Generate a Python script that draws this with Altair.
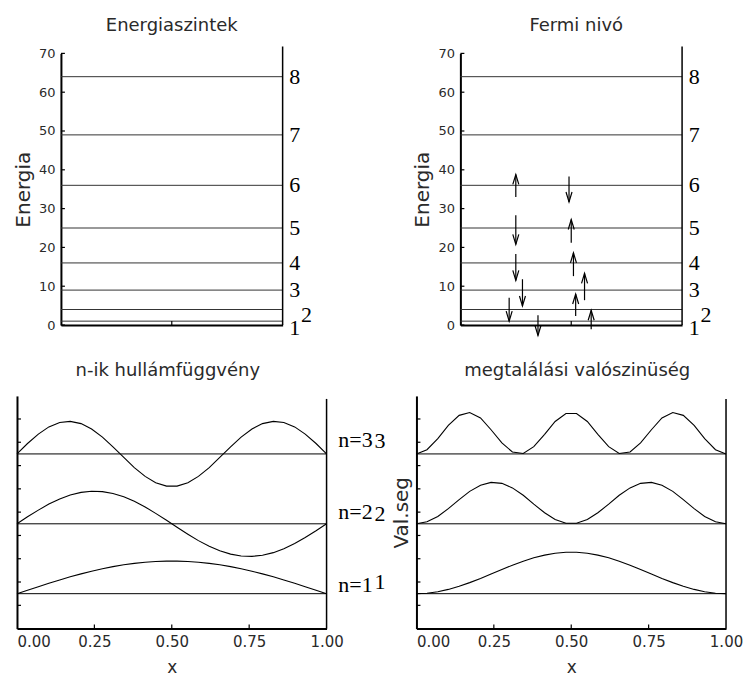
import altair as alt
import pandas as pd

# ---------------- data ----------------
# top panels: energy levels E_n and their labels
levels = [1, 4, 9, 16, 25, 36, 49, 64]
level_text = ["1", "2", "3", "4", "5", "6", "7", "8"]
level_text_x = [1.03, 1.083, 1.03, 1.03, 1.03, 1.03, 1.03, 1.03]
level_text_y = [-0.7, 2.5, 9, 16, 25, 36, 49, 64]
energy_ticks = [0, 10, 20, 30, 40, 50, 60, 70]
top_x_ticks = [0.5]

# Fermi level: spin arrows (x position, tail energy, tip energy)
arrow_x = [0.25, 0.49, 0.25, 0.50, 0.25, 0.51, 0.28, 0.56, 0.22, 0.52, 0.35, 0.59]
arrow_from = [33.0, 38.3, 28.3, 21.2, 18.3, 12.6, 11.8, 6.4, 7.0, 2.3, 2.5, -1.1]
arrow_to = [38.8, 31.7, 20.8, 27.2, 11.5, 18.6, 4.9, 13.3, 1.0, 8.0, -2.7, 3.8]

# bottom panels: sampled curves (offset from their baselines)
xs = [0.0, 0.034, 0.069, 0.103, 0.138, 0.172, 0.207, 0.241, 0.276, 0.31,
      0.345, 0.379, 0.414, 0.448, 0.483, 0.517, 0.552, 0.586, 0.621, 0.655,
      0.69, 0.724, 0.759, 0.793, 0.828, 0.862, 0.897, 0.931, 0.966, 1.0]
psi1 = [0, .050, .100, .149, .196, .241, .283, .321, .356, .387, .413, .434, .450, .461, .466,
        .466, .461, .450, .434, .413, .387, .356, .321, .283, .241, .196, .149, .100, .050, 0]
psi2 = [0, .100, .196, .283, .356, .413, .450, .466, .461, .434, .387, .321, .241, .149, .050,
        -.050, -.149, -.241, -.321, -.387, -.434, -.461, -.466, -.450, -.413, -.356, -.283, -.196, -.100, 0]
psi3 = [0, .149, .283, .387, .450, .466, .434, .356, .241, .100, -.050, -.196, -.321, -.413, -.461,
        -.461, -.413, -.321, -.196, -.050, .100, .241, .356, .434, .466, .450, .387, .283, .149, 0]
prob1 = [0, .007, .028, .061, .105, .158, .218, .281, .346, .408, .464, .514, .552, .579, .593,
         .593, .579, .552, .514, .464, .408, .346, .281, .218, .158, .105, .061, .028, .007, 0]
prob2 = [0, .028, .105, .218, .346, .464, .552, .593, .579, .514, .408, .281, .158, .061, .007,
         .007, .061, .158, .281, .408, .514, .579, .593, .552, .464, .346, .218, .105, .028, 0]
prob3 = [0, .061, .218, .408, .552, .593, .514, .346, .158, .028, .007, .105, .281, .464, .579,
         .579, .464, .281, .105, .007, .028, .158, .346, .514, .593, .552, .408, .218, .061, 0]
baselines = [1, 2, 3]

wave_labels = ["n=1", "n=2", "n=3"]
wave_label_x = [1.038, 1.038, 1.038]
wave_label_y = [1.12, 2.17, 3.2]
prob_labels = ["1", "2", "3"]
prob_label_x = [-0.118, -0.118, -0.118]
prob_label_y = [1.166, 2.147, 3.19]

bottom_y_ticks = [0.833, 1.167, 1.5, 1.833, 2.167, 2.5, 2.833, 3.167, 3.5]
bottom_x_ticks = [0.25, 0.5, 0.75]
bottom_x_labels = [0, 0.25, 0.5, 0.75, 1]

# ---------------- styling ----------------
FONT = "DejaVu Sans"
SERIF = "Liberation Serif"
INK = "#2a2a2a"
XOFF = 44                      # room left of the energy axis inside the top panels
W_TOP, H_TOP = 222, 272
W_BOT, H_BOT = 310, 233


def make_title(text, offset, dx):
    return alt.TitleParams(text=text, font=FONT, fontSize=18, fontWeight="normal",
                           color=INK, anchor="middle", frame="group", offset=offset, dx=dx)


def top_panel(title, with_arrows, title_dx):
    xsc = alt.Scale(domain=[0, 1], range=[XOFF, XOFF + W_TOP], nice=False, zero=False)
    ysc = alt.Scale(domain=[0, 70], nice=False, zero=False)
    xax = alt.Axis(labels=False, ticks=False, tickSize=0, title=None, grid=False,
                   domainColor="black", domainWidth=2)
    yax = alt.Axis(values=energy_ticks, ticks=False, tickSize=0, labelPadding=6,
                   labelFontSize=13, title="Energia", titleFontSize=20, titlePadding=5,
                   offset=-XOFF, grid=False, domainColor="black", domainWidth=2)

    X = lambda f: alt.X(f, type="quantitative", scale=xsc, axis=xax)
    Y = lambda f: alt.Y(f, type="quantitative", scale=ysc, axis=yax)

    lines = alt.Chart(pd.DataFrame({"level": levels})).mark_rule(
        color="#333333", strokeWidth=1).encode(
        y=Y("level"), x=alt.datum(0, scale=xsc), x2=alt.datum(1))

    lab = pd.DataFrame({"t": level_text, "lx": level_text_x, "ly": level_text_y})
    labels = alt.Chart(lab).mark_text(font=SERIF, fontSize=22, align="left",
                                      baseline="middle", color="black").encode(
        x=X("lx"), y=Y("ly"), text="t:N")

    yt = alt.Chart(pd.DataFrame({"v": energy_ticks})).mark_rule(
        color="black", strokeWidth=1.2).encode(
        y=Y("v"), x=alt.datum(0), x2=alt.datum(0.018))
    xt = alt.Chart(pd.DataFrame({"v": top_x_ticks})).mark_rule(
        color="black", strokeWidth=1.2).encode(
        x=X("v"), y=alt.value(H_TOP), y2=alt.value(H_TOP - 4))
    frame = alt.Chart(pd.DataFrame({"a": [0]})).mark_rule(
        color="black", strokeWidth=1.5).encode(
        x=alt.datum(1), y=alt.value(-7), y2=alt.value(H_TOP))

    layers = [lines, yt, xt, frame, labels]
    if with_arrows:
        ar = pd.DataFrame({"ax": arrow_x, "yfrom": arrow_from, "yto": arrow_to})
        ar["dir"] = ["up" if b > a else "down" for a, b in zip(arrow_from, arrow_to)]
        shafts = alt.Chart(ar).mark_rule(color="black", strokeWidth=1.2).encode(
            x=X("ax"), y=Y("yfrom"), y2="yto:Q")
        up = alt.Chart(ar).transform_filter("datum.dir == 'up'").mark_point(
            shape="M-0.3,1L0,0L0.3,1", size=400, filled=False, color="black",
            strokeWidth=1.2, opacity=1).encode(x=X("ax"), y=Y("yto"))
        down = alt.Chart(ar).transform_filter("datum.dir == 'down'").mark_point(
            shape="M-0.3,-1L0,0L0.3,-1", size=400, filled=False, color="black",
            strokeWidth=1.2, opacity=1).encode(x=X("ax"), y=Y("yto"))
        layers += [shafts, up, down]

    return alt.layer(*layers).properties(
        width=XOFF + W_TOP, height=H_TOP, title=make_title(title, 11, title_dx))


def bottom_panel(title, series, ltext, lx, ly, lalign, ytitle, title_dx):
    xsc = alt.Scale(domain=[0, 1], nice=False, zero=False)
    ysc = alt.Scale(domain=[0.5, 3.83], nice=False, zero=False)
    xax = alt.Axis(values=bottom_x_labels, format=".2f", ticks=False, tickSize=0,
                   labelPadding=6, labelFontSize=15, title="x", titleFontSize=17,
                   titlePadding=10, grid=False, domainColor="black", domainWidth=2,
                   labelAlign={"condition": {"test": "datum.value === 0", "value": "left"},
                               "value": "center"})
    yargs = dict(labels=False, ticks=False, tickSize=0, grid=False,
                 domainColor="black", domainWidth=2)
    if ytitle:
        yax = alt.Axis(title=ytitle, titleFontSize=20, titlePadding=5, **yargs)
    else:
        yax = alt.Axis(title=None, **yargs)

    X = lambda f: alt.X(f, type="quantitative", scale=xsc, axis=xax)
    Y = lambda f: alt.Y(f, type="quantitative", scale=ysc, axis=yax)

    rows = []
    for base, vals in zip(baselines, series):
        for xv, v in zip(xs, vals):
            rows.append({"x": xv, "y": base + v, "n": base})
    cdf = pd.DataFrame(rows)

    curves = alt.Chart(cdf).mark_line(color="black", strokeWidth=1.1).encode(
        x=X("x"), y=Y("y"), detail="n:N")
    base_lines = alt.Chart(pd.DataFrame({"b": baselines})).mark_rule(
        color="black", strokeWidth=1).encode(y=Y("b"))
    yt = alt.Chart(pd.DataFrame({"v": bottom_y_ticks})).mark_rule(
        color="black", strokeWidth=1.2).encode(
        y=Y("v"), x=alt.value(0), x2=alt.value(4))
    xt = alt.Chart(pd.DataFrame({"v": bottom_x_ticks})).mark_rule(
        color="black", strokeWidth=1.2).encode(
        x=X("v"), y=alt.value(H_BOT), y2=alt.value(H_BOT - 4))
    frame = alt.Chart(pd.DataFrame({"a": [0]})).mark_rule(
        color="black", strokeWidth=1.5).encode(
        x=alt.value(W_BOT), y=alt.value(3), y2=alt.value(H_BOT))
    lab = pd.DataFrame({"t": ltext, "lx": lx, "ly": ly})
    labels = alt.Chart(lab).mark_text(font=SERIF, fontSize=22, align=lalign,
                                      baseline="middle", color="black").encode(
        x=X("lx"), y=Y("ly"), text="t:N")
    return alt.layer(base_lines, curves, yt, xt, frame, labels).properties(
        width=W_BOT, height=H_BOT, title=make_title(title, 16, title_dx))


tl = top_panel("Energiaszintek", False, 22)
tr = top_panel("Fermi nivó", True, 27)
bl = bottom_panel("n-ik hullámfüggvény", [psi1, psi2, psi3], wave_labels,
                  wave_label_x, wave_label_y, "left", None, -4)
br = bottom_panel("megtalálási valószinüség", [prob1, prob2, prob3], prob_labels,
                  prob_label_x, prob_label_y, "center", "Val.seg", 6)

chart = alt.vconcat(
    alt.hconcat(tl, tr, spacing=100),
    alt.hconcat(bl, br, spacing=0),
    spacing=23,
).properties(
    padding={"left": 5, "top": 8, "right": 0, "bottom": 0}
).configure_view(strokeWidth=0).configure_axis(
    labelFont=FONT, titleFont=FONT, labelColor=INK, titleColor=INK,
    titleFontWeight="normal")

chart.save("out.html", embed_options={"renderer": "svg", "actions": False})
